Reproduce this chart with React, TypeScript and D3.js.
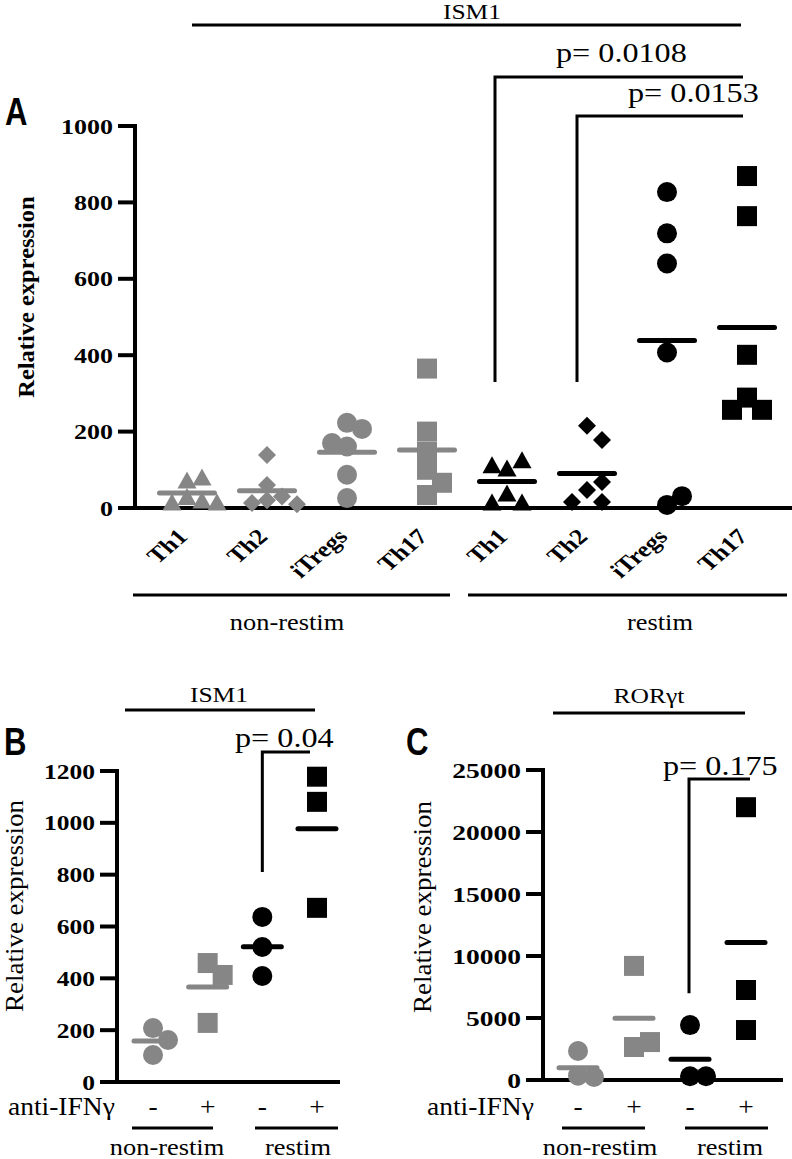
import React from 'react';
import * as d3 from 'd3';

// ---------- DATA ----------
const panelACategories = ['Th1', 'Th2', 'iTregs', 'Th17', 'Th1', 'Th2', 'iTregs', 'Th17'];
const panelAShapes = ['triangle', 'diamond', 'circle', 'square', 'triangle', 'diamond', 'circle', 'square'];
const panelARestim = [false, false, false, false, true, true, true, true];
const panelAValues = [
  [73, 81, 30, 21, 16, 16],
  [139, 60, 30, 20, 13, 10],
  [161, 223, 207, 170, 87, 26],
  [365, 200, 147, 100, 66, 34],
  [105, 126, 113, 39, 16, 16],
  [215, 178, 47, 68, 16, 16],
  [827, 719, 640, 407, 8, 31],
  [869, 764, 401, 289, 257, 257],
];
const panelATicks = [0, 200, 400, 600, 800, 1000];
const panelATitle = 'ISM1';
const panelAPValues = ['p= 0.0108', 'p= 0.0153'];
const groupLabels = ['non-restim', 'restim'];
const yAxisTitle = 'Relative expression';
const treatmentTitle = 'anti-IFNγ';

const bcTreatment = ['-', '+', '-', '+'];
const bcShapes = ['circle', 'square', 'circle', 'square'];
const bcRestim = [false, false, true, true];

const panelBValues = [
  [104, 208, 162],
  [459, 413, 228],
  [637, 521, 409],
  [1081, 1178, 672],
];
const panelBTicks = [0, 200, 400, 600, 800, 1000, 1200];
const panelBTitle = 'ISM1';
const panelBP = 'p= 0.04';

const panelCValues = [
  [350, 250, 2340],
  [2660, 3060, 9200],
  [300, 300, 4430],
  [22000, 7260, 4030],
];
const panelCTicks = [0, 5000, 10000, 15000, 20000, 25000];
const panelCTitle = 'RORγt';
const panelCP = 'p= 0.175';

// ---------- STYLE ----------
const serif = "'Liberation Serif', 'DejaVu Serif', 'Times New Roman', serif";
const sans = "'Liberation Sans', Arimo, Arial, 'DejaVu Sans', sans-serif";
const GRAY = '#868686';
const BLACK = '#000';

function markerPath(shape: string): string {
  switch (shape) {
    case 'circle':
      return d3.symbol(d3.symbolCircle, Math.PI * 10 * 10)() as string;
    case 'square':
      return d3.symbol(d3.symbolSquare, 400)() as string;
    case 'triangle':
      return 'M0,-8.5L9.5,8.5L-9.5,8.5Z';
    default:
      return 'M0,-9L9,0L0,9L-9,0Z';
  }
}

function swarm(values: number[], y: (v: number) => number, step: number, minDist: number) {
  const order = [0, 1, -1, 2, -2, 3, -3];
  const placed: [number, number][] = [];
  return values.map((v) => {
    const py = y(v);
    for (const k of order) {
      const px = k * step;
      if (placed.every((p) => Math.hypot(p[0] - px, p[1] - py) >= minDist)) {
        placed.push([px, py]);
        return px;
      }
    }
    return 0;
  });
}

type TP = {
  x: number; y: number; size: number; anchor?: string; weight?: string; sx?: number;
  family?: string; rotate?: number; children: React.ReactNode;
};
const T = ({ x, y, size, anchor = 'start', weight = 'normal', sx = 1, family = serif, rotate, children }: TP) => (
  <text
    transform={rotate ? `translate(${x},${y}) rotate(${rotate}) scale(${sx},1)` : `translate(${x},${y}) scale(${sx},1)`}
    textAnchor={anchor as any}
    fill="#000"
    style={{ fontFamily: family, fontSize: `${size}px`, fontWeight: weight as any }}
  >
    {children}
  </text>
);

function Scatter({ values, shapes, restim, x, y, step, minDist, half }: any) {
  return (
    <g>
      {values.map((vals: number[], i: number) => {
        const cx = x(i);
        const color = restim[i] ? BLACK : GRAY;
        const offs = swarm(vals, y, step, minDist);
        const m = d3.mean(vals) as number;
        const path = markerPath(shapes[i]);
        return (
          <g key={i}>
            {vals.map((v, j) => (
              <path key={j} d={path} fill={color} transform={`translate(${cx + offs[j]},${y(v)})`} />
            ))}
            <line x1={cx - half} x2={cx + half} y1={y(m)} y2={y(m)} stroke={color} strokeWidth={5} strokeLinecap="round" />
          </g>
        );
      })}
    </g>
  );
}

function YAxis({ ticks, y, axisX, tickLen, labelEnd, sx }: any) {
  const top = y(ticks[ticks.length - 1]);
  const bottom = y(ticks[0]);
  return (
    <g>
      <line x1={axisX} x2={axisX} y1={top} y2={bottom} stroke="#000" strokeWidth={4} strokeLinecap="square" />
      {ticks.map((t: number) => (
        <g key={t}>
          <line x1={axisX - tickLen} x2={axisX} y1={y(t)} y2={y(t)} stroke="#000" strokeWidth={4} />
          <T x={labelEnd} y={y(t) + 7.5} size={22} anchor="end" weight="bold" sx={sx}>{t}</T>
        </g>
      ))}
    </g>
  );
}

export default function App() {
  // ---------- PANEL A ----------
  const yA = d3.scaleLinear().domain([0, 1000]).range([508, 126]);
  const bandA = d3.scaleBand<number>().domain(d3.range(8)).range([147, 787]);
  const xA = (i: number) => (bandA(i) as number) + bandA.bandwidth() / 2;

  // ---------- PANEL B ----------
  const yB = d3.scaleLinear().domain([0, 1200]).range([1082, 771]);
  const bandB = d3.scaleBand<number>().domain(d3.range(4)).range([125.7, 344.3]);
  const xB = (i: number) => (bandB(i) as number) + bandB.bandwidth() / 2;

  // ---------- PANEL C ----------
  const yC = d3.scaleLinear().domain([0, 25000]).range([1080, 770]);
  const bandC = d3.scaleBand<number>().domain(d3.range(4)).range([550, 774]);
  const xC = (i: number) => (bandC(i) as number) + bandC.bandwidth() / 2;

  return (
    <svg width={792} height={1159} style={{ position: 'absolute', left: 0, top: 0, background: '#fff' }}>
      <rect x={0} y={0} width={792} height={1159} fill="#fff" />

      {/* ===== Panel A ===== */}
      <T x={5} y={125} size={38} weight="bold" family={sans} sx={0.82}>A</T>
      <T x={472} y={19} size={22} anchor="middle" sx={1.16}>{panelATitle}</T>
      <line x1={192} x2={741} y1={25} y2={25} stroke="#000" strokeWidth={3} />
      <T x={556} y={62} size={28} sx={1.15}>{panelAPValues[0]}</T>
      <path d={`M${xA(4) - 12},${yA(330)}V77H743`} fill="none" stroke="#000" strokeWidth={3} />
      <T x={628} y={102} size={28} sx={1.15}>{panelAPValues[1]}</T>
      <path d={`M${xA(5) - 10},${yA(330)}V116H743`} fill="none" stroke="#000" strokeWidth={3} />

      <T x={34} y={297} size={24} anchor="middle" weight="bold" rotate={-90} sx={1.02}>{yAxisTitle}</T>
      <YAxis ticks={panelATicks} y={yA} axisX={135} tickLen={17} labelEnd={113} sx={1.18} />
      <line x1={118} x2={792} y1={yA(0)} y2={yA(0)} stroke="#000" strokeWidth={4} />
      <Scatter values={panelAValues} shapes={panelAShapes} restim={panelARestim} x={xA} y={yA} step={15} minDist={15} half={27.5} />
      {panelACategories.map((c, i) => (
        <text
          key={i}
          transform={`translate(${xA(i) + 2},538) scale(1.18,1) rotate(-45)`}
          textAnchor="end"
          style={{ fontFamily: serif, fontSize: '22px', fontWeight: 'bold' }}
        >
          {c}
        </text>
      ))}
      <line x1={133} x2={450} y1={595} y2={595} stroke="#000" strokeWidth={3} />
      <line x1={468} x2={787} y1={595} y2={595} stroke="#000" strokeWidth={3} />
      <T x={287} y={630} size={24} anchor="middle" sx={1.1}>{groupLabels[0]}</T>
      <T x={660} y={630} size={24} anchor="middle" sx={1.1}>{groupLabels[1]}</T>

      {/* ===== Panel B ===== */}
      <T x={4} y={755} size={38} weight="bold" family={sans} sx={0.82}>B</T>
      <T x={219} y={702} size={22} anchor="middle" sx={1.16}>{panelBTitle}</T>
      <line x1={125} x2={315} y1={710} y2={710} stroke="#000" strokeWidth={3} />
      <T x={235} y={747} size={28} sx={1.15}>{panelBP}</T>
      <path d={`M${xB(2)},${yB(810)}V752H310`} fill="none" stroke="#000" strokeWidth={3} />
      <T x={23} y={906} size={25} anchor="middle" rotate={-90} sx={1.08}>{yAxisTitle}</T>
      <YAxis ticks={panelBTicks} y={yB} axisX={117} tickLen={17} labelEnd={95} sx={1.16} />
      <line x1={100} x2={340} y1={yB(0)} y2={yB(0)} stroke="#000" strokeWidth={4} />
      <Scatter values={panelBValues} shapes={bcShapes} restim={bcRestim} x={xB} y={yB} step={15} minDist={19} half={19} />
      <T x={8} y={1115} size={25} sx={1.1}>{treatmentTitle}</T>
      {bcTreatment.map((t, i) => (
        <T key={i} x={xB(i)} y={1115} size={25} anchor="middle" sx={1.1}>{t}</T>
      ))}
      <line x1={132} x2={213} y1={1128} y2={1128} stroke="#000" strokeWidth={3} />
      <line x1={255} x2={338} y1={1128} y2={1128} stroke="#000" strokeWidth={3} />
      <T x={167} y={1155} size={24} anchor="middle" sx={1.1}>{groupLabels[0]}</T>
      <T x={298} y={1155} size={24} anchor="middle" sx={1.1}>{groupLabels[1]}</T>

      {/* ===== Panel C ===== */}
      <T x={406} y={755} size={38} weight="bold" family={sans} sx={0.82}>C</T>
      <T x={649} y={703} size={22} anchor="middle" sx={1.16}>{panelCTitle}</T>
      <line x1={553} x2={745} y1={713} y2={713} stroke="#000" strokeWidth={3} />
      <T x={663} y={775} size={28} sx={1.15}>{panelCP}</T>
      <path d={`M${xC(2) - 1},${yC(7000)}V779H750`} fill="none" stroke="#000" strokeWidth={3} />
      <T x={431} y={907} size={25} anchor="middle" rotate={-90} sx={1.08}>{yAxisTitle}</T>
      <YAxis ticks={panelCTicks} y={yC} axisX={543} tickLen={17} labelEnd={521} sx={1.25} />
      <line x1={526} x2={783} y1={yC(0)} y2={yC(0)} stroke="#000" strokeWidth={4} />
      <Scatter values={panelCValues} shapes={bcShapes} restim={bcRestim} x={xC} y={yC} step={16} minDist={15} half={19} />
      <T x={427} y={1115} size={25} sx={1.1}>{treatmentTitle}</T>
      {bcTreatment.map((t, i) => (
        <T key={i} x={xC(i)} y={1115} size={25} anchor="middle" sx={1.1}>{t}</T>
      ))}
      <line x1={562} x2={645} y1={1128} y2={1128} stroke="#000" strokeWidth={3} />
      <line x1={685} x2={768} y1={1128} y2={1128} stroke="#000" strokeWidth={3} />
      <T x={600} y={1155} size={24} anchor="middle" sx={1.1}>{groupLabels[0]}</T>
      <T x={730} y={1155} size={24} anchor="middle" sx={1.1}>{groupLabels[1]}</T>
    </svg>
  );
}
